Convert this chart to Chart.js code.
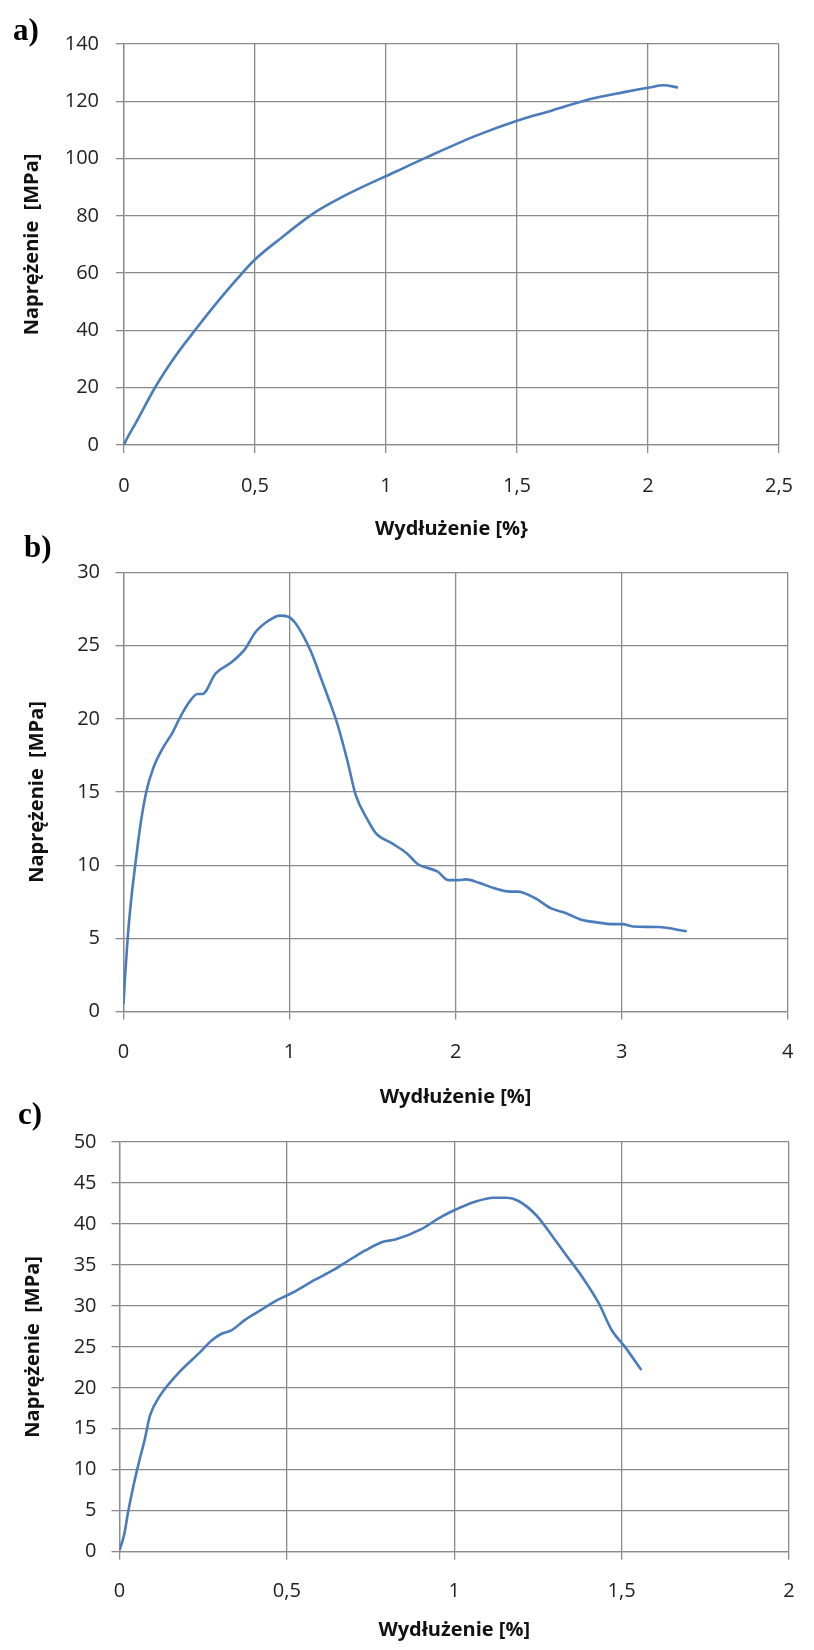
<!DOCTYPE html>
<html>
<head>
<meta charset="utf-8">
<script src="https://cdn.jsdelivr.net/npm/chart.js@4.4.1/dist/chart.umd.min.js"></script>
<style>
  body { margin: 0; background: #fff; width: 814px; height: 1650px; position: relative; overflow: hidden; }
  .wykres { position: absolute; left: 0; width: 814px; }
  .litera { position: absolute; font-family: "Liberation Serif", serif; font-weight: bold; font-size: 31px; line-height: 1; color: #000; }
</style>
</head>
<body>
<div class="wykres" style="top:0;height:545px"><canvas id="wykres-a" width="814" height="545"></canvas></div>
<div class="wykres" style="top:545px;height:570px"><canvas id="wykres-b" width="814" height="570"></canvas></div>
<div class="wykres" style="top:1115px;height:535px"><canvas id="wykres-c" width="814" height="535"></canvas></div>
<div class="litera" style="left:13px;top:14px">a)</div>
<div class="litera" style="left:24px;top:531px">b)</div>
<div class="litera" style="left:18px;top:1098px">c)</div>

<script>
// wykres a)
const wydluzenieA = [0, 0.01, 0.05, 0.118, 0.2, 0.279, 0.36, 0.43, 0.497, 0.6, 0.722, 0.85, 1.034, 1.159, 1.347, 1.506, 1.634, 1.784, 1.909, 2.005, 2.059, 2.115];
const naprezenieA = [0, 2, 8.5, 20, 31.5, 41, 50.3, 57.8, 64.5, 72.3, 80.8, 87.4, 95.3, 100.6, 108.1, 113.4, 116.8, 120.9, 123.2, 124.8, 125.6, 124.8];
const xTicksA = [0, 0.5, 1, 1.5, 2, 2.5];
const yTicksA = [0, 20, 40, 60, 80, 100, 120, 140];

// wykres b)
const wydluzenieB = [0, 0.01, 0.025, 0.045, 0.065, 0.088, 0.108, 0.138, 0.178, 0.237, 0.297, 0.336, 0.396, 0.446, 0.475, 0.555, 0.654, 0.734, 0.793, 0.873, 0.942, 0.992, 1.031, 1.081, 1.13, 1.19, 1.25, 1.289, 1.349, 1.398, 1.47, 1.522, 1.615, 1.707, 1.769, 1.893, 1.955, 2.017, 2.063, 2.14, 2.233, 2.326, 2.372, 2.48, 2.572, 2.665, 2.757, 2.85, 2.943, 3.005, 3.067, 3.221, 3.392];
const naprezenieB = [0.5, 2.5, 5, 7.5, 9.5, 11.6, 13.2, 15.05, 16.6, 18.0, 19.1, 20.0, 21.15, 21.7, 21.7, 23.1, 23.9, 24.8, 25.9, 26.7, 27.05, 26.98, 26.6, 25.7, 24.56, 22.75, 20.9, 19.6, 17.1, 14.8, 13.1, 12.15, 11.5, 10.8, 10.1, 9.55, 8.98, 8.98, 9.03, 8.8, 8.42, 8.19, 8.19, 7.74, 7.06, 6.72, 6.27, 6.09, 5.97, 5.97, 5.81, 5.77, 5.48];
const xTicksB = [0, 1, 2, 3, 4];
const yTicksB = [0, 5, 10, 15, 20, 25, 30];

// wykres c)
const wydluzenieC = [0, 0.0135, 0.026, 0.042, 0.058, 0.076, 0.091, 0.122, 0.152, 0.183, 0.237, 0.276, 0.305, 0.334, 0.374, 0.423, 0.462, 0.501, 0.53, 0.58, 0.638, 0.687, 0.736, 0.785, 0.824, 0.903, 0.952, 1.0, 1.06, 1.118, 1.157, 1.192, 1.245, 1.295, 1.334, 1.383, 1.432, 1.471, 1.51, 1.559];
const naprezenieC = [0.2, 2.0, 4.9, 8.1, 10.9, 13.8, 16.6, 19.1, 20.7, 22.1, 24.2, 25.8, 26.6, 27.0, 28.26, 29.5, 30.5, 31.3, 31.9, 33.1, 34.35, 35.6, 36.8, 37.8, 38.1, 39.4, 40.66, 41.67, 42.68, 43.2, 43.2, 42.8, 41.06, 38.4, 36.2, 33.5, 30.3, 27.0, 25.0, 22.16];
const xTicksC = [0, 0.5, 1, 1.5, 2];
const yTicksC = [0, 5, 10, 15, 20, 25, 30, 35, 40, 45, 50];

const KOLOR_LINII = '#4a7cbb';
const KOLOR_SIATKI = '#8a8a8a';
const CZCIONKA = '"Open Sans", sans-serif';

function punkty(xs, ys) {
  return xs.map(function (x, i) { return { x: x, y: ys[i] }; });
}

function zPrzecinkiem(v) {
  return String(v).replace('.', ',');
}

function rysujWykres(id, dane, xTicks, yTicks, tytulX, uklad) {
  const siatka = { color: KOLOR_SIATKI, lineWidth: 1.3, tickLength: 8, tickColor: KOLOR_SIATKI, drawTicks: true };
  const ramka = { color: KOLOR_SIATKI, width: 1.3 };
  new Chart(document.getElementById(id), {
    type: 'scatter',
    data: {
      datasets: [{
        data: dane,
        showLine: true,
        borderColor: KOLOR_LINII,
        borderWidth: 2.6,
        pointRadius: 0,
        cubicInterpolationMode: 'monotone',
        fill: false
      }]
    },
    options: {
      responsive: false,
      animation: false,
      layout: { padding: { top: uklad.gora, right: uklad.prawo, left: 0, bottom: 0 } },
      plugins: { legend: { display: false }, tooltip: { enabled: false } },
      scales: {
        x: {
          type: 'linear',
          min: xTicks[0],
          max: xTicks[xTicks.length - 1],
          afterBuildTicks: function (s) { s.ticks = xTicks.map(function (v) { return { value: v }; }); },
          afterFit: function (s) { s.height = uklad.xWys; },
          ticks: { autoSkip: false, maxRotation: 0, padding: uklad.xPad, color: '#222', font: { family: CZCIONKA, size: 20 }, callback: zPrzecinkiem },
          grid: siatka,
          border: ramka,
          title: { display: true, text: tytulX, color: '#111', padding: { top: 0, bottom: uklad.xTytul }, font: { family: CZCIONKA, size: 20, weight: 'bold' } }
        },
        y: {
          type: 'linear',
          min: yTicks[0],
          max: yTicks[yTicks.length - 1],
          afterBuildTicks: function (s) { s.ticks = yTicks.map(function (v) { return { value: v }; }); },
          afterFit: function (s) { s.width = uklad.lewo; },
          ticks: { autoSkip: false, padding: uklad.yPad, color: '#222', font: { family: CZCIONKA, size: 20 }, callback: zPrzecinkiem },
          grid: siatka,
          border: ramka,
          title: { display: true, text: 'Naprężenie  [MPa]', color: '#111', padding: { top: uklad.yTytul, bottom: 0 }, font: { family: CZCIONKA, size: 20, weight: 'bold' } }
        }
      }
    }
  });
}

rysujWykres('wykres-a', punkty(wydluzenieA, naprezenieA), xTicksA, yTicksA, 'Wydłużenie [%}',
  { gora: 44, prawo: 23, lewo: 124, xWys: 100, xPad: 21, xTytul: 4, yPad: 17, yTytul: 20 });
rysujWykres('wykres-b', punkty(wydluzenieB, naprezenieB), xTicksB, yTicksB, 'Wydłużenie [%]',
  { gora: 25, prawo: 19, lewo: 123.5, xWys: 103.5, xPad: 20.5, xTytul: 6, yPad: 15.5, yTytul: 25 });
rysujWykres('wykres-c', punkty(wydluzenieC, naprezenieC), xTicksC, yTicksC, 'Wydłużenie [%]',
  { gora: 26.7, prawo: 14, lewo: 119.5, xWys: 98.3, xPad: 19.3, xTytul: 8, yPad: 15, yTytul: 21 });
</script>
</body>
</html>
